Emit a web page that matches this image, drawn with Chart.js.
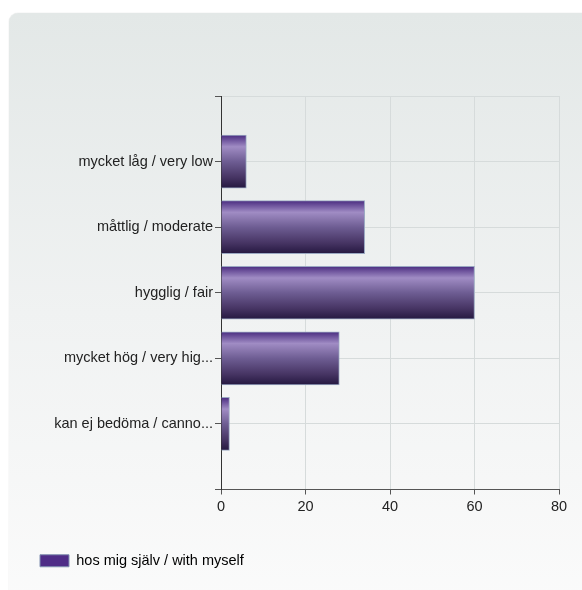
<!DOCTYPE html>
<html>
<head>
<meta charset="utf-8">
<script src="https://cdn.jsdelivr.net/npm/chart.js@4/dist/chart.umd.min.js"></script>
<style>
  html, body { margin: 0; padding: 0; background: #fff; }
  body { width: 582px; height: 590px; position: relative; overflow: hidden; }
  .panel {
    position: absolute; left: 9px; top: 13px; width: 600px; height: 600px;
    border-radius: 9px;
    background: linear-gradient(to bottom, #e3e8e7 0%, #f0f2f2 50%, #fbfbfb 100%);
    box-shadow: 0 0 1px rgba(0,0,0,0.25);
  }
  #wrap { position: absolute; left: 0; top: 0; width: 582px; height: 590px; }
</style>
</head>
<body>
<div class="panel"></div>
<div id="wrap"><canvas id="chart" width="582" height="590"></canvas></div>
<script>
  // categories (blank slots at the ends keep the half-step gap at top and bottom)
  const categories = [
    "",
    "mycket låg / very low",
    "måttlig / moderate",
    "hygglig / fair",
    "mycket hög / very hig...",
    "kan ej bedöma / canno...",
    ""
  ];
  const seriesName = "hos mig själv / with myself";
  const values = [null, 6, 34, 60, 28, 2, null];
  const xTicks = [0, 20, 40, 60, 80];

  const BAR_H = 53;

  function barFill(ctx) {
    const chart = ctx.chart;
    const y = chart.scales && chart.scales.y;
    if (!y || ctx.dataIndex == null) return "#4f2d87";
    const c = y.getPixelForValue(ctx.dataIndex);
    if (!isFinite(c)) return "#4f2d87";
    const g = chart.ctx.createLinearGradient(0, c - BAR_H / 2, 0, c + BAR_H / 2);
    g.addColorStop(0, "#4a2c80");
    g.addColorStop(0.22, "#a08cc4");
    g.addColorStop(0.5, "#6e5d93");
    g.addColorStop(0.8, "#463463");
    g.addColorStop(1, "#251840");
    return g;
  }

  const font = { family: "Arial, 'Liberation Sans', sans-serif", size: 14.5 };

  new Chart(document.getElementById("chart"), {
    type: "bar",
    data: {
      labels: categories,
      datasets: [{
        label: seriesName,
        data: values,
        backgroundColor: barFill,
        borderColor: "#9aa8c2",
        borderWidth: 1,
        borderSkipped: "left",
        barThickness: BAR_H
      }]
    },
    options: {
      indexAxis: "y",
      responsive: false,
      animation: false,
      devicePixelRatio: 1,
      layout: { padding: { left: 30, right: 23, top: 96, bottom: 12 } },
      scales: {
        x: {
          min: 0, max: 80,
          afterBuildTicks: (s) => { s.ticks = xTicks.map((v) => ({ value: v })); },
          grid: { color: "#d6dbdb", tickColor: "#555", tickLength: 5 },
          border: { color: "#555", width: 1 },
          ticks: { color: "#222", font, padding: 4 },
          afterFit: (s) => { s.height = 54; }
        },
        y: {
          type: "category",
          offset: false,
          grid: { color: "#d6dbdb", tickColor: "#555", tickLength: 6, offset: false },
          border: { color: "#333", width: 1 },
          ticks: { color: "#222", font, padding: 2, autoSkip: false },
          afterFit: (s) => { s.width = 191; }
        }
      },
      plugins: {
        legend: {
          position: "bottom",
          align: "start",
          labels: {
            color: "#222",
            font,
            boxWidth: 29,
            boxHeight: 12,
            padding: 10,
            generateLabels: (chart) => [{
              text: seriesName,
              fillStyle: "#4f2d87",
              strokeStyle: "#8090b0",
              lineWidth: 1,
              datasetIndex: 0
            }]
          }
        },
        tooltip: { enabled: false }
      }
    }
  });
</script>
</body>
</html>
